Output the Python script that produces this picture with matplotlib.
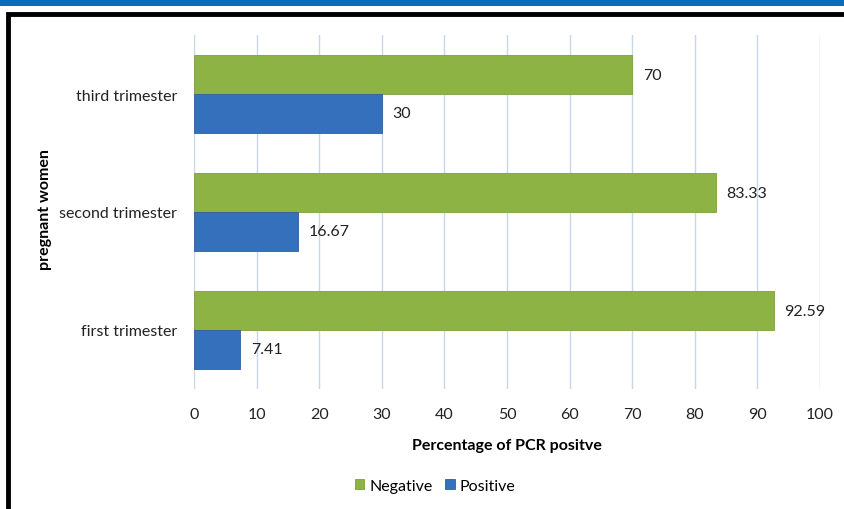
import matplotlib
matplotlib.use("Agg")
import matplotlib.pyplot as plt
import numpy as np
from matplotlib.patches import Rectangle

categories = ["first trimester", "second trimester", "third trimester"]
negative = [92.59, 83.33, 70]
positive = [7.41, 16.67, 30]
neg_labels = ["92.59", "83.33", "70"]
pos_labels = ["7.41", "16.67", "30"]
xticks = [0, 10, 20, 30, 40, 50, 60, 70, 80, 90, 100]

plt.rcParams['font.family'] = ['Lato', 'DejaVu Sans']

W, H = 844, 510
fs = 11.5
fig = plt.figure(figsize=(W/100, H/100), dpi=100)

# header band and frame
fig.patches.append(Rectangle((0, 1 - 7/H), 1, 7/H, transform=fig.transFigure,
                             facecolor="#0A6EBE", edgecolor="none", zorder=-2))
fig.patches.append(Rectangle((7.5/W, -0.05), 1.0, 1 - 15/H + 0.05, transform=fig.transFigure,
                             facecolor="white", edgecolor="black", linewidth=3.5, zorder=-1))

ax = fig.add_axes([194/W, (H-390)/H, 626/W, 354/H])
ax.set_zorder(2)
ax.patch.set_alpha(0)
y = np.arange(len(categories))
h = 0.33
green = "#8DB345"
blue = "#3570BD"
ax.barh(y + h/2, negative, height=h, color=green, edgecolor="#7F9E3E", linewidth=0.6,
        label="Negative", zorder=3)
ax.barh(y - h/2, positive, height=h, color=blue, edgecolor="#2E5F9E", linewidth=0.6,
        label="Positive", zorder=3)

for yi, v, t in zip(y, negative, neg_labels):
    ax.text(v + 1.7, yi + h/2, t, va="center", ha="left", fontsize=fs, color="#222222")
for yi, v, t in zip(y, positive, pos_labels):
    ax.text(v + 1.7, yi - h/2, t, va="center", ha="left", fontsize=fs, color="#222222")

ax.set_xlim(0, 100)
ax.set_ylim(-0.5, 2.5)
ax.set_xticks(xticks)
ax.set_xticklabels([str(t) for t in xticks], fontsize=fs)
ax.set_yticks(y)
ax.set_yticklabels(categories, fontsize=fs)
ax.tick_params(axis="both", length=0, colors="#222222")
ax.tick_params(axis="y", pad=12)
ax.tick_params(axis="x", pad=13)
ax.grid(axis="x", color="#C9D7EA", linewidth=1, zorder=0)
for s in ax.spines.values():
    s.set_visible(False)

ax.set_xlabel("Percentage of PCR positve", fontsize=fs, fontweight="bold", labelpad=12)
fig.text(45/W, 1 - 210/H, "pregnant women", rotation=90, ha="center", va="center",
         fontsize=fs, fontweight="bold")

handles, labels = ax.get_legend_handles_labels()
fig.legend(handles, labels, loc="center", bbox_to_anchor=(435/W, 1 - 487/H), ncol=2,
           frameon=False, fontsize=fs, handlelength=0.6, handleheight=0.6,
           handletextpad=0.3, columnspacing=0.8)

fig.savefig("out.png", dpi=100)
